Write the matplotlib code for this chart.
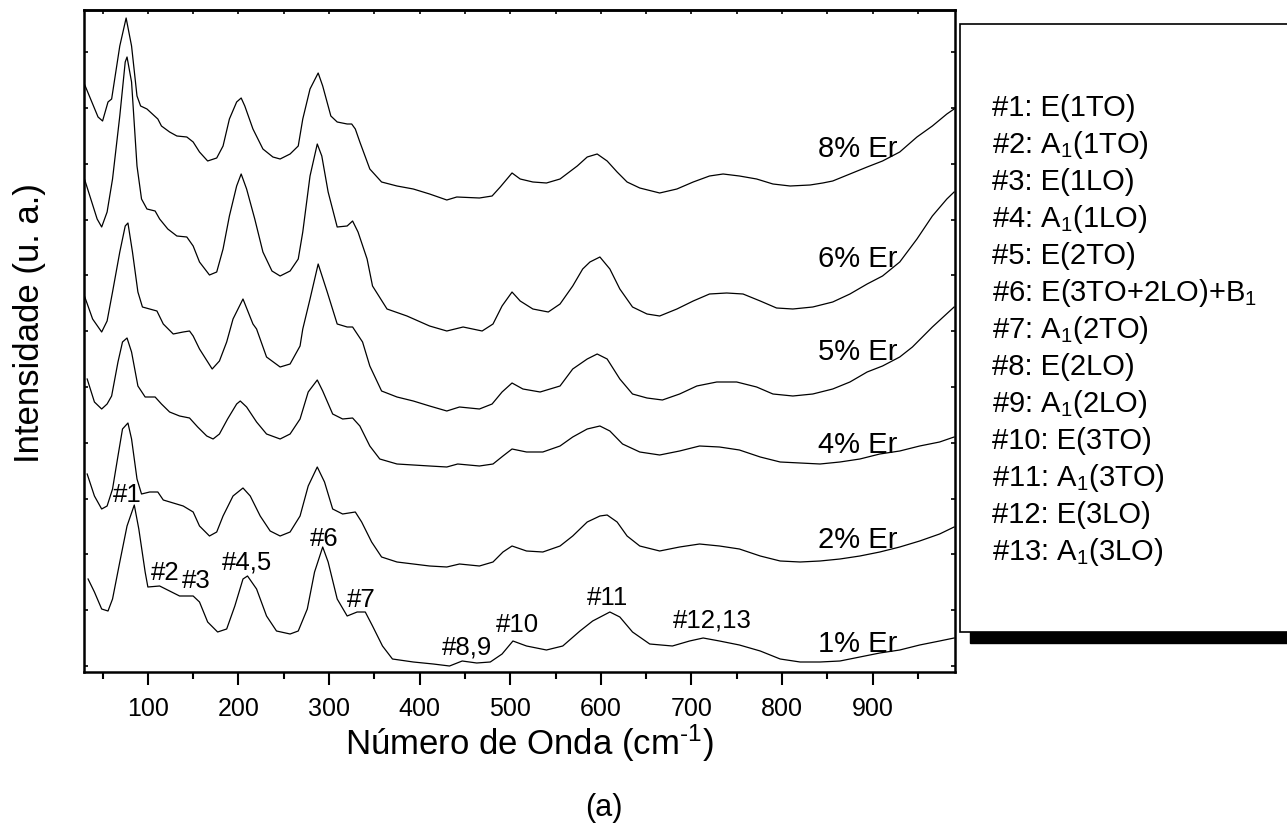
# Espectros Raman das amostras dopadas com Er, deslocados verticalmente
import matplotlib.pyplot as plt
from matplotlib.patches import Rectangle
from matplotlib.ticker import MultipleLocator, FixedLocator
import numpy as np

plt.rcParams['font.family'] = ['Liberation Sans', 'DejaVu Sans']
plt.rcParams['mathtext.fontset'] = 'custom'
plt.rcParams['mathtext.rm'] = 'Liberation Sans'
plt.rcParams['mathtext.it'] = 'Liberation Sans:italic'
plt.rcParams['mathtext.bf'] = 'Liberation Sans:bold'

# --- espectros (numero de onda, intensidade ja com offset) ---
w_8 = [29, 45, 50, 56, 60, 69, 76, 82, 88, 92, 99, 111, 115, 124, 132, 143, 150, 157, 166, 176,
       183, 190, 198, 203, 207, 216, 227, 238, 246, 257, 266, 271, 279, 288, 293, 302, 309, 320, 325, 329,
       334, 345, 358, 375, 393, 411, 430, 441, 466, 480, 489, 502, 511, 525, 540, 555, 574, 585, 596, 607,
       618, 629, 643, 665, 684, 702, 720, 735, 753, 772, 790, 809, 831, 845, 856, 875, 894, 911, 930, 949,
       966, 982, 990]
i_8 = [593, 558, 554, 573, 576, 629, 657, 629, 579, 569, 566, 556, 549, 543, 539, 538, 533, 523, 514, 517,
       529, 556, 573, 577, 569, 546, 526, 518, 516, 521, 529, 556, 586, 602, 589, 559, 553, 551, 551, 546,
       533, 506, 493, 489, 486, 481, 475, 478, 477, 479, 488, 502, 496, 493, 492, 496, 509, 518, 521, 514,
       503, 493, 487, 482, 486, 493, 499, 501, 499, 496, 491, 489, 490, 492, 494, 501, 508, 514, 523, 538,
       549, 561, 566]

w_6 = [30, 44, 49, 55, 61, 69, 75, 77, 82, 88, 93, 99, 108, 113, 122, 132, 143, 150, 157, 168,
       176, 183, 190, 198, 203, 209, 218, 227, 237, 246, 257, 266, 271, 279, 287, 292, 299, 309, 320, 326,
       332, 342, 348, 364, 386, 411, 430, 448, 469, 481, 491, 502, 511, 525, 542, 555, 569, 580, 588, 599,
       610, 621, 635, 651, 665, 684, 702, 720, 739, 757, 776, 794, 812, 834, 856, 875, 894, 911, 930, 949,
       966, 982, 990]
i_6 = [496, 456, 448, 463, 496, 559, 613, 618, 593, 509, 476, 466, 464, 456, 446, 439, 438, 429, 413, 400,
       403, 426, 459, 489, 501, 486, 456, 423, 404, 399, 404, 416, 443, 499, 531, 519, 483, 448, 449, 454,
       443, 416, 389, 366, 359, 349, 344, 348, 344, 351, 369, 383, 374, 366, 363, 371, 389, 406, 413, 418,
       406, 386, 368, 361, 359, 366, 374, 381, 382, 381, 374, 367, 366, 368, 373, 381, 391, 399, 413, 436,
       459, 476, 483]

w_5 = [30, 39, 49, 55, 61, 69, 75, 78, 83, 89, 94, 102, 110, 117, 128, 139, 146, 150, 157, 171,
       179, 187, 194, 205, 216, 220, 231, 246, 257, 268, 271, 279, 288, 298, 309, 320, 326, 337, 345, 358,
       375, 393, 411, 430, 444, 466, 480, 491, 502, 514, 533, 555, 569, 585, 596, 607, 621, 635, 651, 668,
       687, 706, 728, 750, 772, 790, 812, 834, 856, 875, 894, 911, 930, 944, 966, 990]
i_5 = [379, 356, 343, 354, 383, 423, 449, 452, 423, 383, 368, 366, 364, 351, 341, 343, 344, 339, 326, 306,
       314, 333, 356, 376, 351, 346, 318, 308, 311, 329, 346, 376, 411, 383, 351, 348, 348, 333, 309, 284,
       278, 274, 269, 264, 268, 266, 271, 283, 292, 286, 283, 289, 306, 316, 321, 316, 296, 281, 277, 275,
       281, 289, 293, 293, 288, 281, 279, 281, 286, 293, 303, 309, 318, 328, 348, 368]

w_4 = [33, 41, 49, 55, 60, 67, 72, 77, 82, 89, 97, 108, 115, 124, 135, 146, 155, 165, 172, 179,
       188, 198, 202, 209, 220, 231, 246, 257, 268, 277, 287, 293, 304, 315, 326, 334, 345, 356, 375, 393,
       411, 430, 442, 466, 481, 492, 502, 518, 536, 555, 569, 585, 599, 610, 624, 643, 665, 687, 709, 731,
       753, 776, 798, 820, 842, 864, 886, 908, 930, 952, 974, 990]
i_4 = [296, 273, 266, 271, 279, 313, 333, 337, 323, 289, 278, 278, 271, 263, 259, 257, 248, 239, 236, 241,
       256, 271, 274, 268, 253, 241, 236, 241, 256, 283, 295, 284, 261, 256, 257, 249, 229, 216, 211, 210,
       209, 208, 211, 209, 211, 219, 226, 223, 223, 229, 238, 246, 249, 244, 231, 223, 220, 224, 229, 228,
       225, 218, 213, 212, 211, 213, 216, 221, 224, 229, 233, 238]

w_2 = [33, 41, 49, 55, 61, 67, 72, 78, 82, 88, 93, 102, 111, 117, 128, 139, 150, 157, 168, 176,
       183, 194, 205, 213, 224, 235, 246, 257, 268, 277, 287, 295, 304, 315, 329, 336, 347, 358, 375, 393,
       411, 430, 444, 466, 481, 492, 502, 518, 536, 555, 569, 585, 599, 607, 618, 629, 643, 665, 687, 709,
       731, 753, 776, 798, 820, 842, 864, 886, 908, 930, 952, 974, 990]
i_2 = [201, 179, 166, 169, 186, 219, 246, 252, 236, 196, 181, 183, 183, 175, 172, 169, 163, 149, 139, 143,
       159, 179, 187, 179, 159, 144, 139, 143, 159, 189, 208, 193, 166, 161, 163, 153, 133, 118, 113, 111,
       109, 108, 111, 109, 113, 123, 129, 124, 123, 129, 139, 153, 159, 160, 153, 139, 129, 124, 128, 131,
       129, 126, 119, 114, 113, 114, 116, 119, 123, 128, 134, 141, 148]

w_1 = [34, 41, 49, 56, 61, 69, 77, 85, 90, 97, 100, 113, 124, 135, 150, 157, 166, 177, 187, 196,
       205, 210, 220, 231, 242, 257, 266, 276, 284, 293, 299, 309, 320, 331, 340, 348, 359, 370, 393, 415,
       433, 447, 463, 478, 491, 503, 518, 540, 558, 577, 591, 610, 621, 635, 654, 679, 698, 713, 731, 753,
       776, 798, 820, 842, 864, 886, 908, 930, 952, 974, 990]
i_1 = [96, 83, 66, 64, 76, 113, 149, 170, 146, 103, 88, 89, 84, 79, 79, 73, 53, 43, 46, 69,
       96, 99, 86, 59, 44, 41, 44, 66, 103, 128, 113, 76, 59, 63, 63, 49, 29, 16, 13, 11,
       9, 14, 12, 13, 21, 34, 29, 25, 29, 44, 54, 63, 58, 43, 31, 29, 34, 37, 34, 30,
       24, 16, 13, 13, 14, 18, 22, 25, 30, 34, 37]

spectra = [(w_8, i_8), (w_6, i_6), (w_5, i_5), (w_4, i_4), (w_2, i_2), (w_1, i_1)]

# rotulos das amostras (a direita de cada curva)
sample_labels = ['8% Er', '6% Er', '5% Er', '4% Er', '2% Er', '1% Er']
sample_label_y = [519, 409, 316, 223, 128, 24]

# modos vibracionais identificados no espectro de 1%
peak_labels = ['#1', '#2', '#3', '#4,5', '#6', '#7', '#8,9', '#10', '#11', '#12,13']
peak_x = [77, 119, 153, 209, 295, 336, 452, 508, 607, 723]
peak_y = [174, 96, 88, 106, 130, 69, 21, 44, 71, 48]

mode_lines = ['#1: E(1TO)', '#2: A$_1$(1TO)', '#3: E(1LO)', '#4: A$_1$(1LO)', '#5: E(2TO)',
              '#6: E(3TO+2LO)+B$_1$', '#7: A$_1$(2TO)', '#8: E(2LO)', '#9: A$_1$(2LO)',
              '#10: E(3TO)', '#11: A$_1$(3TO)', '#12: E(3LO)', '#13: A$_1$(3LO)']

fig = plt.figure(figsize=(12.87, 8.28), dpi=100)
ax = fig.add_axes([0.06527, 0.18720, 0.67677, 0.79952])

for w, inten in spectra:
    ax.plot(w, inten, color='black', lw=0.9)

for lab, ly in zip(sample_labels, sample_label_y):
    ax.text(884, ly, lab, ha='center', va='baseline', fontsize=21)

for lab, px, py in zip(peak_labels, peak_x, peak_y):
    ax.text(px, py, lab, ha='center', va='baseline', fontsize=18.5)

ax.set_xlim(29.5, 991)
ax.set_ylim(3, 665)

ax.xaxis.set_major_locator(MultipleLocator(100))
ax.xaxis.set_minor_locator(MultipleLocator(50))
ax.tick_params(axis='x', which='major', direction='out', length=9.5, width=1.5,
               labelsize=18, pad=8, top=False)
ax.tick_params(axis='x', which='minor', direction='out', length=5, width=1.5, top=False)

ax.yaxis.set_major_locator(FixedLocator(np.arange(9, 665, 55.8)))
ax.tick_params(axis='y', which='both', direction='in', length=3, width=1.2,
               left=True, right=True, labelleft=False)

# marcas pequenas no eixo superior
top = ax.secondary_xaxis('top')
top.xaxis.set_major_locator(MultipleLocator(50))
top.tick_params(direction='in', length=3, width=1.2, labeltop=False)
top.spines['top'].set_linewidth(1.8)

for sp in ax.spines.values():
    sp.set_linewidth(1.8)

fig.text(529 / 1287, 1 - 755 / 828, r'Número de Onda (cm$^{\text{-}1}$)', ha='center', va='baseline', fontsize=25)
fig.text(30 / 1287, 1 - 323 / 828, 'Intensidade (u. a.)', rotation=90, ha='center', va='center', fontsize=25)
fig.text(604 / 1287, 1 - 808 / 828, '(a)', ha='center', va='center', fontsize=22)

# caixa com a atribuicao dos modos (com sombra)
shadow = Rectangle((970 / 1287, 1 - 644 / 828), 0.3, (633 - 25) / 828,
                   transform=fig.transFigure, facecolor='black', edgecolor='black')
box = Rectangle((960 / 1287, 1 - 633 / 828), 0.3, (633 - 25) / 828,
                transform=fig.transFigure, facecolor='white', edgecolor='black', lw=1.2)
fig.add_artist(shadow)
fig.add_artist(box)

for k, line in enumerate(mode_lines):
    fig.text(992 / 1287, 1 - (116 + 37 * k) / 828, line, ha='left', va='baseline', fontsize=21)

fig.savefig('out.png', dpi=100)
